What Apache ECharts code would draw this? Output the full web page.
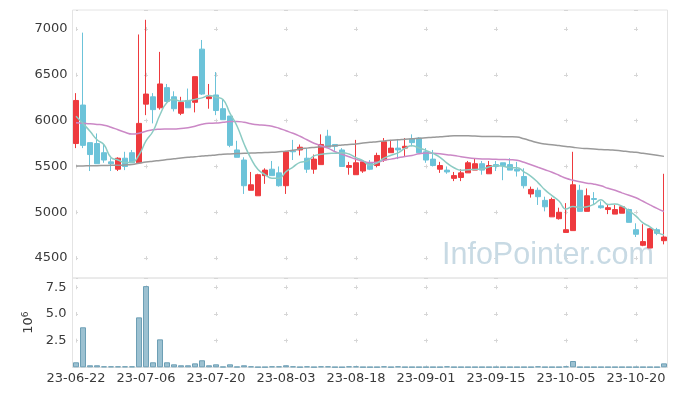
<!DOCTYPE html>
<html><head><meta charset="utf-8">
<script src="https://cdn.jsdelivr.net/npm/echarts@6/dist/echarts.min.js"></script>
<style>html,body{margin:0;padding:0;background:#fff}#c{width:677px;height:396px}</style>
</head><body><div id="c"></div>
<script>
const dates = ['23-06-22','23-06-23','23-06-26','23-06-27','23-06-28','23-06-29','23-06-30','23-07-03','23-07-04','23-07-05',
'23-07-06','23-07-07','23-07-10','23-07-11','23-07-12','23-07-13','23-07-14','23-07-17','23-07-18','23-07-19',
'23-07-20','23-07-21','23-07-24','23-07-25','23-07-26','23-07-27','23-07-28','23-07-31','23-08-01','23-08-02',
'23-08-03','23-08-04','23-08-07','23-08-08','23-08-09','23-08-10','23-08-11','23-08-14','23-08-16','23-08-17',
'23-08-18','23-08-21','23-08-22','23-08-23','23-08-24','23-08-25','23-08-28','23-08-29','23-08-30','23-08-31',
'23-09-01','23-09-04','23-09-05','23-09-06','23-09-07','23-09-08','23-09-11','23-09-12','23-09-13','23-09-14',
'23-09-15','23-09-18','23-09-19','23-09-20','23-09-21','23-09-22','23-09-25','23-09-26','23-09-27','23-10-04',
'23-10-05','23-10-06','23-10-10','23-10-11','23-10-12','23-10-13','23-10-16','23-10-17','23-10-18','23-10-19',
'23-10-20','23-10-23','23-10-24','23-10-25','23-10-26'];

const opens = [5750,6170,5760,5750,5650,5550,5470,5590,5650,5540, 6180,6260,6140,6360,6260,6080,6220,6200,6780,6240,
6280,6130,6050,5680,5570,5240,5180,5400,5470,5430, 5290,5670,5680,5590,5470,5520,5830,5740,5680,5490,
5410,5450,5540,5510,5570,5650,5700,5700,5800,5810, 5660,5580,5470,5460,5370,5380,5430,5460,5530,5420,
5520,5540,5520,5470,5390,5200,5240,5130,4950,4930, 4780,4800,5240,5010,5150,5070,5030,4980,4990,5030,
4810,4640,4610,4810,4690];
const closes = [6220,5730,5630,5530,5570,5530,5590,5500,5540,5970, 6290,6120,6400,6210,6130,6200,6140,6480,6290,6260,
6110,6010,5730,5600,5290,5300,5410,5460,5400,5290, 5660,5660,5710,5470,5580,5740,5710,5720,5500,5510,
5540,5550,5470,5620,5770,5700,5680,5720,5760,5650, 5570,5510,5510,5440,5400,5430,5540,5530,5460,5510,
5500,5510,5460,5450,5290,5250,5170,5060,5140,5000, 4810,5300,5010,5180,5140,5050,5050,5030,5060,4890,
4760,4680,4820,4770,4730];
const highs = [6300,6960,5760,5860,5740,5590,5600,5660,5680,6940, 7100,6300,6750,6400,6320,6260,6350,6480,6880,6400,
6530,6230,6050,5780,5600,5440,5420,5480,5560,5500, 5670,5790,5740,5700,5630,5850,5900,5740,5700,5550,
5790,5560,5570,5650,5810,5790,5800,5810,5850,5820, 5700,5680,5550,5500,5440,5470,5560,5590,5560,5560,
5560,5540,5590,5550,5480,5280,5270,5170,5160,5050, 5100,5660,5300,5260,5220,5120,5080,5080,5070,5040,
4880,4870,4830,4830,5420];
const lows = [5700,5700,5450,5530,5540,5450,5450,5460,5540,5530, 6060,5970,6120,6200,6100,6060,6140,6090,6280,6130,
6060,6010,5710,5600,5200,5240,5180,5310,5400,5280, 5200,5570,5620,5430,5420,5520,5710,5670,5500,5410,
5410,5430,5460,5490,5550,5650,5580,5610,5720,5650, 5540,5500,5430,5420,5340,5340,5430,5460,5410,5420,
5450,5350,5460,5390,5260,5160,5080,5010,4950,4920, 4780,4800,5010,5010,5080,5040,4980,4980,4990,4890,
4730,4630,4610,4750,4650];

const ma5 = [6048,5968,5884,5792,5736,5598,5570,5544,5546,5626, 5778,5884,6064,6198,6230,6212,6216,6232,6248,6274,
6256,6230,6080,5942,5748,5586,5466,5412,5372,5372, 5444,5494,5544,5558,5616,5632,5642,5644,5650,5636,
5596,5564,5514,5538,5590,5622,5648,5698,5726,5702, 5676,5642,5600,5536,5486,5458,5464,5468,5472,5494,
5508,5502,5488,5486,5442,5392,5324,5244,5182,5124, 5036,5062,5052,5060,5088,5136,5086,5090,5066,5016,
4958,4884,4842,4784,4752];
const ma20 = [5976,5971,5966,5959,5950,5928,5900,5873,5853,5862, 5884,5900,5906,5908,5909,5915,5922,5939,5960,5971,
5973,5982,5990,5991,5982,5966,5955,5950,5939,5917, 5889,5862,5829,5791,5753,5726,5700,5660,5633,5606,
5578,5556,5543,5545,5567,5580,5595,5609,5620,5638, 5646,5644,5638,5627,5620,5606,5595,5587,5582,5580,
5578,5576,5573,5567,5545,5518,5491,5464,5436,5404, 5371,5349,5333,5318,5307,5289,5262,5240,5212,5185,
5158,5120,5081,5043,5008];
const ma60 = [5505,5506,5507,5508,5510,5512,5514,5517,5521,5535, 5549,5558,5566,5575,5584,5593,5600,5607,5613,5620,
5626,5633,5637,5640,5644,5646,5649,5652,5655,5660, 5666,5676,5690,5700,5708,5715,5720,5726,5733,5740,
5745,5755,5763,5770,5779,5786,5791,5797,5802,5808, 5813,5818,5824,5829,5834,5835,5835,5832,5828,5827,
5826,5825,5824,5821,5802,5780,5758,5744,5737,5728, 5719,5709,5700,5695,5690,5685,5682,5676,5669,5661,
5654,5643,5632,5621,5610];

// volume in units of 10^6
const volumes = [0.47,3.75,0.19,0.19,0.09,0.09,0.09,0.09,0.09,4.68, 7.61,0.47,2.62,0.47,0.28,0.19,0.19,0.37,0.66,0.19,
0.28,0.06,0.28,0.06,0.19,0.09,0.03,0.03,0.09,0.09, 0.19,0.09,0.03,0.09,0.03,0.09,0.09,0.03,0.02,0.09,
0.09,0.03,0.03,0.03,0.09,0.03,0.09,0.03,0.03,0.03, 0.03,0.03,0.03,0.09,0.03,0.03,0.03,0.03,0.03,0.03,
0.03,0.03,0.03,0.03,0.03,0.03,0.09,0.03,0.03,0.03, 0.09,0.59,0.03,0.03,0.03,0.03,0.03,0.03,0.03,0.03,
0.03,0.03,0.03,0.03,0.37];

const priceTicks = [4500, 5000, 5500, 6000, 6500, 7000];
const volTicks = [2.5, 5.0, 7.5];

// ---- layout ----
const FONT = 'DejaVu Sans';
const TXT = '#3a3a3a';
const GRIDC = '#e4e4e4';
const MARKC = '#d6d6d6';
const mainTop = 10, mainBot = 278, volBot = 367.3;
const gL = 72.5, gR = 677 - 667.5;
const yMin = 4283, yMax = 7207;
const vMax = 8.37;
const n = dates.length;
const colW = (677 - gR - gL) / n;
const innerL = gL + colW / 2, innerR = gR + colW / 2;

const dash = 4;
const mainH = mainBot - mainTop;
const pStep = (priceTicks[1] - priceTicks[0]) / (yMax - yMin) * mainH;
const pFirst = (yMax - priceTicks[priceTicks.length - 1]) / (yMax - yMin) * mainH;
const pOff = ((-(pFirst - dash / 2)) % pStep + pStep) % pStep;
const volH = volBot - mainBot;
const vStep = 2.5 / vMax * volH;
const vFirst = (vMax - 7.5) / vMax * volH;
const vOff = ((-(vFirst - dash / 2)) % vStep + vStep) % vStep;
const xStep = colW * 10;

const chart = echarts.init(document.getElementById('c'));
const hidden = {axisLine:{show:false}, axisTick:{show:false}, axisLabel:{show:false}};

chart.setOption({
  animation: false,
  backgroundColor: '#fff',
  grid: [
    {left: gL, right: gR, top: mainTop, bottom: 396 - mainBot, show: true, borderColor: GRIDC, borderWidth: 1, outerBoundsMode: 'none'},
    {left: gL, right: gR, top: mainBot, bottom: 396 - volBot, show: true, borderColor: GRIDC, borderWidth: 1, outerBoundsMode: 'none'},
    {left: innerL, right: innerR, top: mainTop, bottom: 396 - mainBot, outerBoundsMode: 'none'},
    {left: innerL, right: innerR, top: mainBot, bottom: 396 - volBot, outerBoundsMode: 'none'}
  ],
  xAxis: [
    Object.assign({type: 'category', data: dates, gridIndex: 0, boundaryGap: true, splitLine:{show:false}}, hidden),
    {type: 'category', data: dates, gridIndex: 1, boundaryGap: true, splitLine:{show:false},
      axisLine:{show:true, lineStyle:{color: GRIDC}}, axisTick:{show:false},
      axisLabel:{interval: 9, color: TXT, fontSize: 13, fontFamily: FONT, margin: 5}},
    Object.assign({type: 'category', data: dates, gridIndex: 2, boundaryGap: false,
      splitLine:{show:true, interval: 9, lineStyle:{color: MARKC, width: 1, type:[dash, pStep - dash], dashOffset: pOff}}}, hidden),
    Object.assign({type: 'category', data: dates, gridIndex: 3, boundaryGap: false,
      splitLine:{show:true, interval: 9, lineStyle:{color: MARKC, width: 1, type:[dash, vStep - dash], dashOffset: vOff}}}, hidden)
  ],
  yAxis: [
    {type: 'value', gridIndex: 0, min: yMin, max: yMax, splitNumber: 5,
      axisLine:{show:false}, axisTick:{show:false}, splitLine:{show:false},
      axisLabel:{color: TXT, fontSize: 13, fontFamily: FONT, margin: 5,
        formatter: v => (priceTicks.indexOf(v) >= 0 ? String(v) : '')}},
    {type: 'value', gridIndex: 1, min: 0, max: vMax, interval: 2.5,
      axisLine:{show:false}, axisTick:{show:false}, splitLine:{show:false},
      axisLabel:{color: TXT, fontSize: 13, fontFamily: FONT, margin: 6,
        formatter: v => (volTicks.indexOf(v) >= 0 ? v.toFixed(1) : '')},
      name: '10{s|6}', nameLocation: 'middle', nameRotate: 90, nameGap: 31,
      nameTextStyle: {color: TXT, fontSize: 13, fontFamily: FONT, rich: {s: {fontSize: 9, fontFamily: FONT, color: TXT, verticalAlign: 'top', padding: [0,0,6,0]}}}},
    Object.assign({type: 'value', gridIndex: 2, min: yMin, max: yMax, splitNumber: 5,
      splitLine:{show:true, lineStyle:{color: MARKC, width: 1, type:[dash, xStep - dash], dashOffset: dash / 2}}}, hidden),
    Object.assign({type: 'value', gridIndex: 3, min: 0, max: vMax, interval: 2.5,
      splitLine:{show:true, lineStyle:{color: MARKC, width: 1, type:[dash, xStep - dash], dashOffset: dash / 2}}}, hidden)
  ],
  graphic: [{
    type: 'text', x: 442, y: 256, z: 1, silent: true,
    style: {text: 'InfoPointer.com', fontFamily: 'Liberation Sans', fontSize: 30.5, fill: '#c8dae4', verticalAlign: 'middle'}
  }],
  series: [
    {type: 'candlestick', xAxisIndex: 0, yAxisIndex: 0, barWidth: 4.6,
      data: dates.map((d, i) => [opens[i], closes[i], lows[i], highs[i]]),
      itemStyle: {color: '#ee3a3e', color0: '#6cc3d9', borderColor: '#ee3a3e', borderColor0: '#6cc3d9', borderWidth: 1}},
    {type: 'line', xAxisIndex: 0, yAxisIndex: 0, data: ma60, showSymbol: false, smooth: true,
      lineStyle: {color: '#9a9a9a', width: 1.5}},
    {type: 'line', xAxisIndex: 0, yAxisIndex: 0, data: ma20, showSymbol: false, smooth: true,
      lineStyle: {color: '#cb88c6', width: 1.5}},
    {type: 'line', xAxisIndex: 0, yAxisIndex: 0, data: ma5, showSymbol: false, smooth: true,
      lineStyle: {color: '#8bcbc3', width: 1.5}},
    {type: 'bar', xAxisIndex: 1, yAxisIndex: 1, data: volumes, barWidth: 6,
      itemStyle: {color: '#9cc1d1', borderColor: '#6d9fb5', borderWidth: 1}}
  ]
});
</script>
</body></html>
